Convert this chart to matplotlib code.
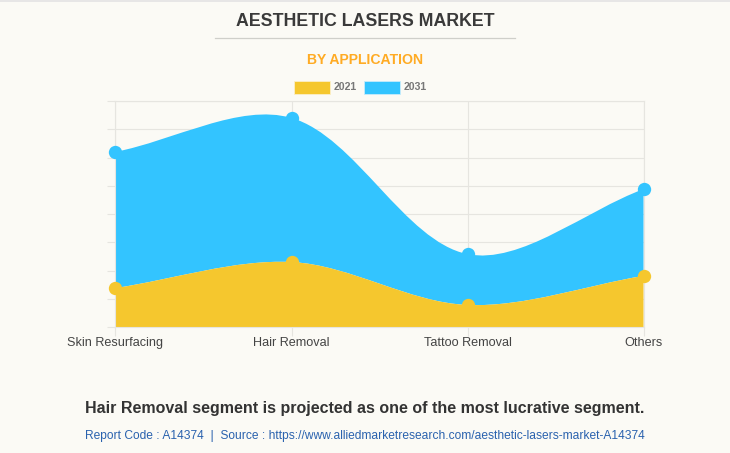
import matplotlib
matplotlib.use("Agg")
import matplotlib.pyplot as plt
import numpy as np
from matplotlib.path import Path
from matplotlib.patches import PathPatch, Rectangle
from matplotlib.lines import Line2D

categories = ["Skin Resurfacing", "Hair Removal", "Tattoo Removal", "Others"]
values_2021 = [1.38, 2.30, 0.78, 1.81]
values_2031 = [4.82, 5.10, 1.80, 3.07]
series_labels = ["2021", "2031"]
y_ticks = [0, 1, 2, 3, 4, 5, 6, 7, 8]

BG = "#FBFAF5"
YELLOW = "#F5C72E"
BLUE = "#33C4FF"
GRID = "#E6E5E0"
W, H = 730, 453
plt.rcParams["font.family"] = ["Liberation Sans", "DejaVu Sans"]

fig = plt.figure(figsize=(W / 100, H / 100), dpi=100, facecolor=BG)
L, R, T, B = 115.5, 643.5, 101, 327
ax = fig.add_axes([L / W, 1 - B / H, (R - L) / W, (B - T) / H])
ax.set_facecolor(BG)
ax.set_xlim(0, 3)
ax.set_ylim(0, 8)
sx, sy = (R - L) / 3, (B - T) / 8


def spline_segments(xs, ys, t=0.33):
    """Bezier control points using distance-weighted tension, in pixel metric."""
    n = len(xs)
    segs = []
    c_prev, c_next = [], []
    for i in range(n):
        p = (xs[max(i - 1, 0)], ys[max(i - 1, 0)])
        c = (xs[i], ys[i])
        q = (xs[min(i + 1, n - 1)], ys[min(i + 1, n - 1)])
        d1 = np.hypot((c[0] - p[0]) * sx, (c[1] - p[1]) * sy)
        d2 = np.hypot((q[0] - c[0]) * sx, (q[1] - c[1]) * sy)
        tot = d1 + d2
        fa, fb = t * d1 / tot, t * d2 / tot
        c_prev.append((c[0] - fa * (q[0] - p[0]), c[1] - fa * (q[1] - p[1])))
        c_next.append((c[0] + fb * (q[0] - p[0]), c[1] + fb * (q[1] - p[1])))
    for i in range(n - 1):
        segs.append((c_next[i], c_prev[i + 1], (xs[i + 1], ys[i + 1])))
    return segs


def band_path(xs, top, bottom):
    verts = [(xs[0], top[0])]
    codes = [Path.MOVETO]
    for a, b, c in spline_segments(xs, top):
        verts += [a, b, c]
        codes += [Path.CURVE4] * 3
    if bottom is None:
        verts += [(xs[-1], 0), (xs[0], 0)]
        codes += [Path.LINETO, Path.LINETO]
    else:
        rx, rb = xs[::-1], bottom[::-1]
        verts.append((rx[0], rb[0]))
        codes.append(Path.LINETO)
        for a, b, c in spline_segments(rx, rb):
            verts += [a, b, c]
            codes += [Path.CURVE4] * 3
    verts.append(verts[0])
    codes.append(Path.CLOSEPOLY)
    return Path(verts, codes)


x = np.arange(len(categories), dtype=float)
low = np.array(values_2021)
high = low + np.array(values_2031)

ax.set_xticks(x)
ax.set_xticklabels(categories, fontsize=9.05, color="#444444")
ax.set_yticks(y_ticks)
ax.set_yticklabels([])
ax.tick_params(axis="both", length=8.5 * 0.72, width=0.8, color=GRID, pad=0.8)
ax.grid(True, color=GRID, linewidth=0.8, zorder=0)
ax.set_axisbelow(True)
for s in ax.spines.values():
    s.set_color(GRID)
    s.set_linewidth(0.8)

ax.add_patch(PathPatch(band_path(list(x), list(high), list(low)), fc=BLUE, ec="none", zorder=2))
ax.add_patch(PathPatch(band_path(list(x), list(low), None), fc=YELLOW, ec="none", zorder=2))
ax.plot(x, high, ls="none", marker="o", ms=9.6, mfc=BLUE, mec="none", clip_on=False, zorder=3)
ax.plot(x, low, ls="none", marker="o", ms=9.6, mfc=YELLOW, mec="none", clip_on=False, zorder=3)


def t(px, py, s, **kw):
    fig.text(px / W, 1 - py / H, s, ha=kw.pop("ha", "center"), va="center", **kw)


fig.add_artist(Line2D([0, 1], [1 - 0.5 / H] * 2, color="#E3E3E3", lw=1.2))
t(365, 21.5, "AESTHETIC LASERS MARKET", fontsize=12.8, fontweight="bold", color="#3A3A3A")
fig.add_artist(Line2D([215 / W, 515 / W], [1 - 37.5 / H] * 2, color="#CFCFCA", lw=0.9))
t(365, 59.5, "BY APPLICATION", fontsize=10.05, fontweight="bold", color="#FFAB24")

for (x0, col, lab) in zip((294, 364), (YELLOW, BLUE), series_labels):
    fig.add_artist(Rectangle((x0 / W, 1 - 94 / H), 36 / W, 13 / H, transform=fig.transFigure,
                             fc=col, ec="#FBEFC8" if col == YELLOW else "#C8ECFA", lw=0.6))
    t(x0 + 39.5, 86.5, lab, ha="left", fontsize=7.6, color="#777777", fontweight="bold")

t(365, 408.5, "Hair Removal segment is projected as one of the most lucrative segment.",
  fontsize=11.55, fontweight="bold", color="#333333")
t(365, 435.5, "Report Code : A14374  |  Source : https://www.alliedmarketresearch.com/aesthetic-lasers-market-A14374",
  fontsize=8.64, color="#2A62AE")

fig.savefig("out.png", dpi=100, facecolor=BG)
